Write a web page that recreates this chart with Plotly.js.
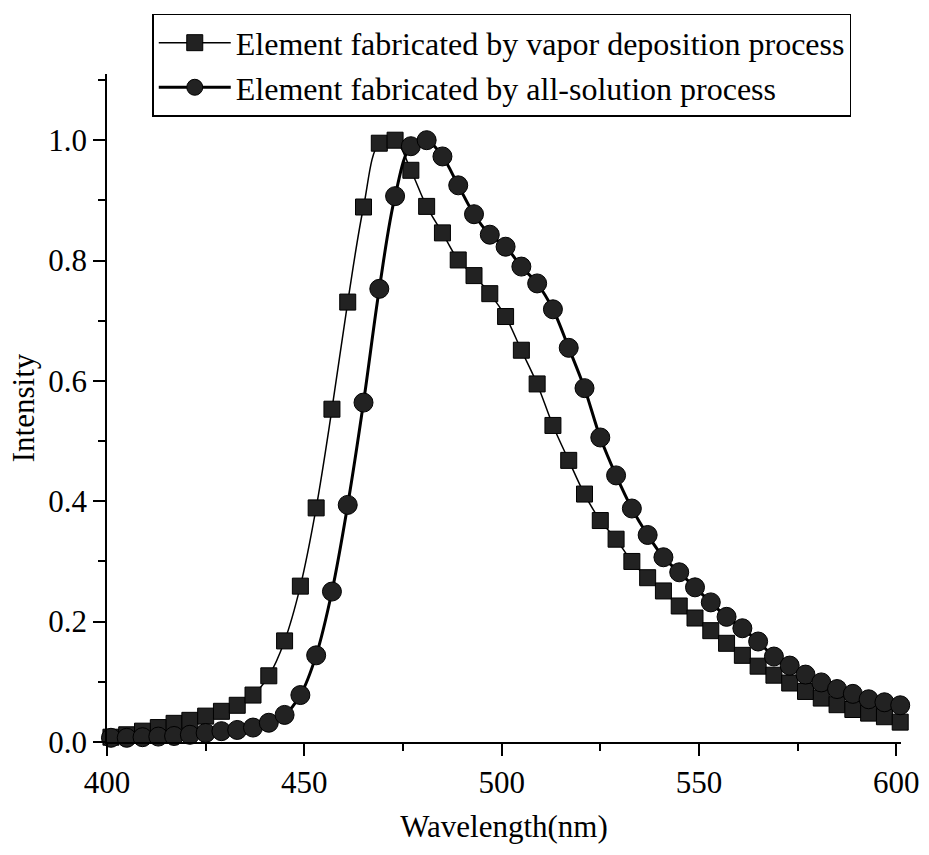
<!DOCTYPE html>
<html>
<head>
<meta charset="utf-8">
<script src="https://cdn.plot.ly/plotly-3.0.1.min.js"></script>
<style>html,body{margin:0;padding:0;background:#fff;}#chart{width:929px;height:855px;}
#chart text{font-family:'Liberation Serif', serif !important;}</style>
</head>
<body>
<div id="chart"></div>
<script>
var wavelength = [401,405,409,413,417,421,425,429,433,437,441,445,449,453,457,461,465,469,473,477,481,485,489,493,497,501,505,509,513,517,521,525,529,533,537,541,545,549,553,557,561,565,569,573,577,581,585,589,593,597,601];

var vaporIntensity = [0.008,0.012,0.018,0.024,0.031,0.036,0.043,0.051,0.061,0.078,0.110,0.168,0.259,0.389,0.553,0.731,0.889,0.995,1.000,0.950,0.890,0.846,0.801,0.775,0.745,0.707,0.651,0.595,0.526,0.468,0.412,0.368,0.337,0.300,0.273,0.251,0.226,0.206,0.185,0.164,0.144,0.126,0.111,0.098,0.084,0.073,0.062,0.054,0.048,0.042,0.033];

var solutionIntensity = [0.007,0.007,0.008,0.009,0.010,0.012,0.015,0.018,0.020,0.024,0.032,0.045,0.078,0.144,0.250,0.394,0.564,0.753,0.907,0.990,1.000,0.973,0.925,0.877,0.843,0.823,0.790,0.762,0.719,0.655,0.588,0.506,0.443,0.388,0.344,0.307,0.282,0.257,0.232,0.208,0.189,0.167,0.142,0.127,0.112,0.099,0.088,0.080,0.071,0.066,0.061];

var seriesNames = ["Element fabricated by vapor deposition process", "Element fabricated by all-solution process"];
var xTickVals = [400,450,500,550,600];
var yTickVals = [0.0,0.2,0.4,0.6,0.8,1.0];

var fontFam = "Liberation Serif";

var traces = [
  {
    x: wavelength, y: vaporIntensity, name: seriesNames[0],
    type: "scatter", mode: "lines+markers", cliponaxis: false,
    line: {color: "#000", width: 1.5, shape: "spline", smoothing: 1},
    marker: {symbol: "square", size: 16, color: "#222", line: {color: "#000", width: 1}}
  },
  {
    x: wavelength, y: solutionIntensity, name: seriesNames[1],
    type: "scatter", mode: "lines+markers", cliponaxis: false,
    line: {color: "#000", width: 3, shape: "spline", smoothing: 1},
    marker: {symbol: "circle", size: 19, color: "#222", line: {color: "#000", width: 1}}
  }
];

var layout = {
  width: 929, height: 855,
  margin: {l: 107, r: 28, t: 74, b: 113},
  paper_bgcolor: "#fff", plot_bgcolor: "#fff",
  font: {size: 31, color: "#000"},
  showlegend: true,
  legend: {
    x: 0.057, y: 1.09, xanchor: "left", yanchor: "top",
    bgcolor: "#fff", bordercolor: "#000", borderwidth: 1.5,
    font: {family: fontFam, size: 32, color: "#000"},
    itemwidth: 72, tracegroupgap: 0
  },
  xaxis: {
    range: [400, 601.2], tickvals: xTickVals, ticktext: xTickVals.map(String),
    showgrid: false, zeroline: false, showline: true, linecolor: "#000", linewidth: 1.5,
    ticks: "outside", ticklen: 12, tickwidth: 1.5, tickcolor: "#000",
    minor: {dtick: 25, ticks: "outside", ticklen: 7, tickwidth: 1.5, tickcolor: "#000", showgrid: false},
    tickfont: {family: fontFam, size: 31},
    title: {text: "Wavelength(nm)", font: {family: fontFam, size: 31}, standoff: 16},
    automargin: false
  },
  yaxis: {
    range: [0, 1.11], tickvals: yTickVals, ticktext: yTickVals.map(function(v){return v.toFixed(1);}),
    showgrid: false, zeroline: false, showline: true, linecolor: "#000", linewidth: 1.5,
    ticks: "outside", ticklen: 12, tickwidth: 1.5, tickcolor: "#000",
    minor: {dtick: 0.1, ticks: "outside", ticklen: 7, tickwidth: 1.5, tickcolor: "#000", showgrid: false},
    tickfont: {family: fontFam, size: 31},
    title: {text: "Intensity", font: {family: fontFam, size: 31}, standoff: 4},
    automargin: false
  }
};

Plotly.newPlot("chart", traces, layout, {displayModeBar: false});
</script>
</body>
</html>
